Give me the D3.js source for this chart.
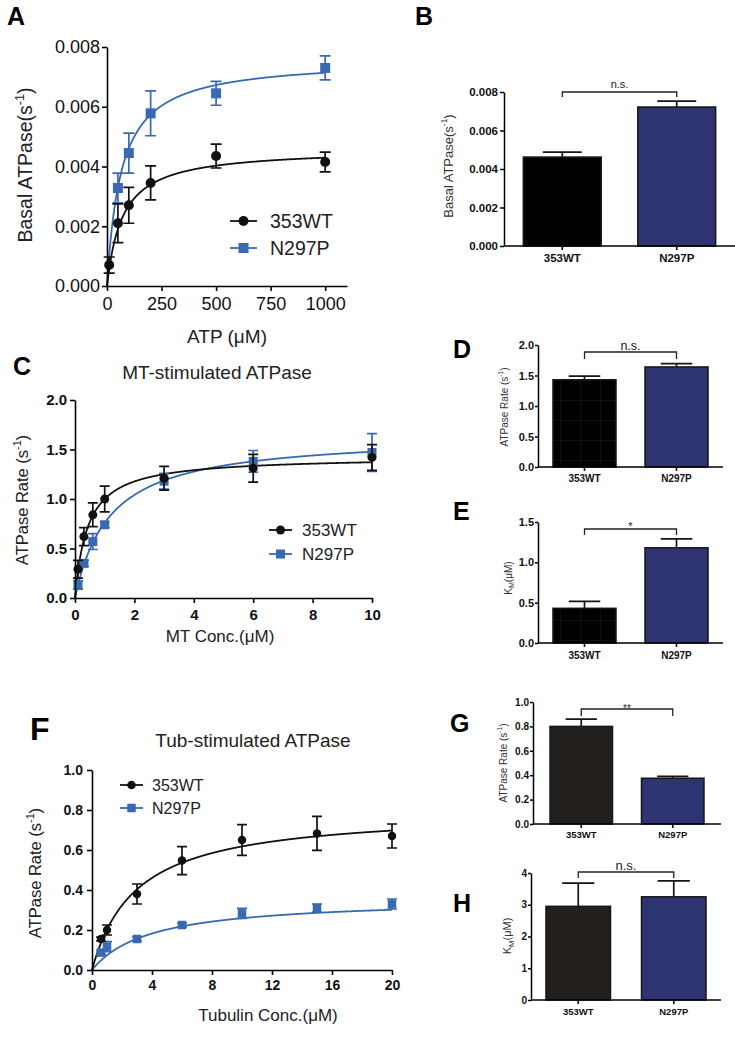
<!DOCTYPE html>
<html><head><meta charset="utf-8">
<script src="https://cdnjs.cloudflare.com/ajax/libs/d3/7.8.5/d3.min.js"></script>
<style>body{margin:0;background:#fff}</style>
</head><body>
<script>
// ---------------- DATA ----------------
const groups = ["353WT", "N297P"];

// Panel A: basal ATPase vs ATP
const aTicksX = [0, 250, 500, 750, 1000];
const aTicksY = [0, 0.002, 0.004, 0.006, 0.008];
const aX_WT = [10, 50, 100, 200, 500, 1000];
const aWT = [0.0007, 0.0021, 0.0027, 0.00345, 0.00435, 0.00415];
const aWTerr = [0.00027, 0.00065, 0.0006, 0.00057, 0.0004, 0.00033];
const aX_N = [50, 100, 200, 500, 1000];
const aN = [0.00328, 0.00445, 0.00578, 0.00645, 0.0073];
const aNerr = [0.0005, 0.00067, 0.00075, 0.0004, 0.0004];
const aFitVmax = [0.0046, 0.0076];
const aFitKm = [71, 65];

// Panel B
const bVals = [0.00462, 0.00722];
const bErr = [0.00026, 0.00031];
const bTicks = [0, 0.002, 0.004, 0.006, 0.008];

// Panel C: MT-stimulated
const cTicksX = [0, 2, 4, 6, 8, 10];
const cTicksY = [0, 0.5, 1.0, 1.5, 2.0];
const cX = [0.1, 0.3, 0.6, 1, 3, 6, 10];
const cWT = [0.29, 0.62, 0.84, 1.0, 1.21, 1.31, 1.42];
const cWTerr = [0.09, 0.09, 0.12, 0.13, 0.12, 0.14, 0.13];
const cN = [0.13, 0.35, 0.57, 0.74, 1.18, 1.38, 1.47];
const cNerr = [0.04, 0.03, 0.08, 0.03, 0.08, 0.11, 0.19];

// Panel D (Vmax) and E (Km) for MT
const dVals = [1.43, 1.64];
const dErr = [0.06, 0.055];
const dTicks = [0, 0.5, 1.0, 1.5, 2.0];
const eVals = [0.43, 1.18];
const eErr = [0.085, 0.11];
const eTicks = [0, 0.5, 1.0, 1.5];

// Panel F: Tub-stimulated
const fTicksX = [0, 4, 8, 12, 16, 20];
const fTicksY = [0, 0.2, 0.4, 0.6, 0.8, 1.0];
const fX = [0.6, 1, 3, 6, 10, 15, 20];
const fWT = [0.155, 0.20, 0.38, 0.547, 0.65, 0.683, 0.67];
const fWTerr = [0.01, 0.025, 0.05, 0.07, 0.077, 0.085, 0.06];
const fN = [0.087, 0.117, 0.155, 0.225, 0.283, 0.31, 0.33];
const fNerr = [0.01, 0.025, 0.01, 0.01, 0.025, 0.02, 0.025];
const fFitVmax = [0.80, 0.36];
const fFitKm = [2.95, 3.9];

// Panel G (Vmax) and H (Km) for tubulin
const gVals = [0.80, 0.375];
const gErr = [0.06, 0.015];
const gTicks = [0, 0.2, 0.4, 0.6, 0.8, 1.0];
const hVals = [2.95, 3.25];
const hErr = [0.73, 0.5];
const hTicks = [0, 1, 2, 3, 4];

// ---------------- DRAW ----------------
const BLUE = "#3a69b3", BLACK = "#111", NAVY = "#2e3472", BROWN = "#231f1c";
const FONT = "'Liberation Sans', Arial, Helvetica, sans-serif";
const svg = d3.select("body").append("svg").attr("width", 735).attr("height", 1039)
  .style("font-family", FONT);

const defs = svg.append("defs");
const pat = defs.append("pattern").attr("id", "grid").attr("patternUnits", "userSpaceOnUse")
  .attr("width", 20).attr("height", 20);
pat.append("rect").attr("width", 20).attr("height", 20).attr("fill", "#000");
pat.append("path").attr("d", "M0,0V20M0,0H20").attr("stroke", "#262626").attr("stroke-width", 0.7);

function richText(g, parts, fs) {
  const t = g;
  let shift = 0;
  parts.forEach(p => {
    const ts = t.append("tspan").text(p.t);
    if (p.sup) { ts.attr("font-size", fs * 0.65).attr("dy", -0.42 * fs); shift = 0.42 * fs; }
    else if (p.sub) { ts.attr("font-size", fs * 0.7).attr("dy", 0.25 * fs); shift = -0.25 * fs; }
    else if (shift !== 0) { ts.attr("dy", shift); shift = 0; }
  });
}

function rotTitle(cx, cy, parts, fs, fill) {
  const t = svg.append("text").attr("transform", `translate(${cx},${cy}) rotate(-90)`)
    .attr("text-anchor", "middle").attr("dy", "0.35em").attr("font-size", fs).attr("fill", fill);
  richText(t, parts, fs);
}

function label(x, y, s, fs, opts = {}) {
  return svg.append("text").attr("x", x).attr("y", y).text(s).attr("font-size", fs)
    .attr("font-weight", opts.bold ? "bold" : "normal").attr("fill", opts.fill || "#111")
    .attr("text-anchor", opts.anchor || "start");
}

function styleAxis(a, fs, fw, sw) {
  a.attr("font-family", null).attr("font-size", fs).attr("font-weight", fw);
  a.select(".domain").attr("stroke", "#000").attr("stroke-width", sw);
  a.selectAll(".tick line").attr("stroke", "#000").attr("stroke-width", sw);
  a.selectAll(".tick text").attr("fill", "#111");
}

function marker(g, shape, cx, cy, size, color) {
  if (shape === "circle") g.append("circle").attr("cx", cx).attr("cy", cy).attr("r", size / 2).attr("fill", color);
  else g.append("rect").attr("x", cx - size / 2).attr("y", cy - size / 2).attr("width", size).attr("height", size).attr("fill", color);
}

function scatter(o) {
  const x = d3.scaleLinear().domain(o.xd).range(o.xr);
  const y = d3.scaleLinear().domain(o.yd).range(o.yr);
  const g = svg.append("g");
  // fitted Michaelis-Menten curves
  o.series.forEach(s => {
    const xs = d3.range(0, 801).map(i => i / 800 * s.xmax);
    const line = d3.line().x(d => x(d)).y(d => y(s.vmax * d / (s.km + d)));
    g.append("path").attr("d", line(xs)).attr("fill", "none").attr("stroke", s.color).attr("stroke-width", 1.8);
  });
  // error bars + markers
  o.series.forEach(s => {
    s.x.forEach((xv, i) => {
      const cx = x(xv), y0 = y(s.y[i] - s.err[i]), y1 = y(s.y[i] + s.err[i]);
      g.append("path").attr("d", `M${cx},${y0}V${y1}M${cx - o.cap},${y0}H${cx + o.cap}M${cx - o.cap},${y1}H${cx + o.cap}`)
        .attr("stroke", s.color).attr("stroke-width", 1.7).attr("fill", "none");
      marker(g, s.shape, cx, y(s.y[i]), o.msize, s.color);
    });
  });
  const ax = g.append("g").attr("transform", `translate(0,${o.yr[0]})`)
    .call(d3.axisBottom(x).tickValues(o.xt).tickFormat(o.xf).tickSizeInner(5).tickSizeOuter(0).tickPadding(o.xpad));
  const ay = g.append("g").attr("transform", `translate(${o.xr[0]},0)`)
    .call(d3.axisLeft(y).tickValues(o.yt).tickFormat(o.yf).tickSizeInner(5).tickSizeOuter(0).tickPadding(o.ypad));
  styleAxis(ax, o.fs, o.fw, 1.6);
  styleAxis(ay, o.fs, o.fw, 1.6);
  // legend
  o.series.forEach((s, i) => {
    const ly = o.leg.y[i];
    g.append("line").attr("x1", o.leg.x0).attr("x2", o.leg.x1).attr("y1", ly).attr("y2", ly)
      .attr("stroke", s.color).attr("stroke-width", 1.8);
    marker(g, s.shape, (o.leg.x0 + o.leg.x1) / 2, ly, o.msize, s.color);
    g.append("text").attr("x", o.leg.tx).attr("y", ly + o.leg.fs * 0.36).attr("font-size", o.leg.fs)
      .attr("fill", "#222").text(s.name);
  });
}

function bars(o) {
  const x = d3.scaleBand().domain(groups).range([o.ax0, o.ax1]).paddingInner(o.pi).paddingOuter(o.po);
  const y = d3.scaleLinear().domain(o.yd).range(o.yr);
  const g = svg.append("g");
  const bw = x.bandwidth();
  groups.forEach((c, i) => {
    g.append("rect").attr("x", x(c)).attr("y", y(o.vals[i])).attr("width", bw)
      .attr("height", y(0) - y(o.vals[i])).attr("fill", o.fills[i]).attr("stroke", "#151515").attr("stroke-width", 1.5);
    const cx = x(c) + bw / 2, top = y(o.vals[i] + o.errs[i]);
    g.append("path").attr("d", `M${cx},${y(o.vals[i])}V${top}M${cx - bw / 4},${top}H${cx + bw / 4}`)
      .attr("stroke", "#151515").attr("stroke-width", 1.7).attr("fill", "none");
  });
  const ax = g.append("g").attr("transform", `translate(0,${o.yr[0]})`)
    .call(d3.axisBottom(x).tickSizeInner(4).tickSizeOuter(0).tickPadding(o.catpad));
  ax.select(".domain").attr("d", `M${o.ax0},0H${o.ax1}`);
  const ay = g.append("g").attr("transform", `translate(${o.ax0},0)`)
    .call(d3.axisLeft(y).tickValues(o.yt).tickFormat(o.yf).tickSizeInner(o.tick).tickSizeOuter(0).tickPadding(o.ypad));
  styleAxis(ax, o.catfs, "bold", 1.6);
  styleAxis(ay, o.fs, "bold", 1.5);
  // significance bracket
  const bx0 = x(groups[0]) + bw / 2, bx1 = x(groups[1]) + bw / 2;
  g.append("path").attr("d", `M${bx0},${o.br[1]}V${o.br[0]}H${bx1}V${o.br[1]}`)
    .attr("stroke", "#222").attr("stroke-width", 1.3).attr("fill", "none");
  g.append("text").attr("x", (bx0 + bx1) / 2).attr("y", o.br[2]).attr("text-anchor", "middle")
    .attr("font-size", o.br[3]).attr("fill", "#222").text(o.sig);
  rotTitle(o.tpos[0], o.tpos[1], o.title, o.tfs, "#333");
}

const f1 = d3.format(".1f"), f3 = d3.format(".3f"), fd = d3.format("d");

// ---- Panel A ----
scatter({
  xd: [0, 1100], xr: [107, 347], yd: [0, 0.008], yr: [286, 47],
  xt: aTicksX, yt: aTicksY, xf: fd, yf: f3, fs: 18, fw: "normal", xpad: 6, ypad: 2,
  cap: 5.5, msize: 10,
  series: [
    { name: "N297P", x: aX_N, y: aN, err: aNerr, color: BLUE, shape: "square", vmax: aFitVmax[1], km: aFitKm[1], xmax: 1000 },
    { name: "353WT", x: aX_WT, y: aWT, err: aWTerr, color: BLACK, shape: "circle", vmax: aFitVmax[0], km: aFitKm[0], xmax: 1000 }
  ],
  leg: { x0: 230, x1: 257, tx: 270, y: [248, 221], fs: 19.5 }
});
rotTitle(25, 165, [{ t: "Basal ATPase(s" }, { t: "-1", sup: true }, { t: ")" }], 19.5, "#222");
label(227, 343, "ATP (μM)", 19, { anchor: "middle", fill: "#222" });

// ---- Panel C ----
label(217, 379, "MT-stimulated ATPase", 19, { anchor: "middle", fill: "#222" });
scatter({
  xd: [0, 10], xr: [75, 372], yd: [0, 2], yr: [598, 400],
  xt: cTicksX, yt: cTicksY, xf: fd, yf: f1, fs: 15, fw: "bold", xpad: 6, ypad: 3,
  cap: 5, msize: 9,
  series: [
    { name: "N297P", x: cX, y: cN, err: cNerr, color: BLUE, shape: "square", vmax: dVals[1] + 0.01, km: eVals[1] - 0.01, xmax: 10 },
    { name: "353WT", x: cX, y: cWT, err: cWTerr, color: BLACK, shape: "circle", vmax: dVals[0], km: eVals[0], xmax: 10 }
  ],
  leg: { x0: 269, x1: 292, tx: 302, y: [554, 530], fs: 17 }
});
rotTitle(22, 500, [{ t: "ATPase Rate (s" }, { t: "-1", sup: true }, { t: ")" }], 16.5, "#222");
label(220, 642, "MT Conc.(μM)", 17, { anchor: "middle", fill: "#222" });

// ---- Panel F ----
label(253, 747, "Tub-stimulated ATPase", 19, { anchor: "middle", fill: "#222" });
scatter({
  xd: [0, 20], xr: [92, 392], yd: [0, 1], yr: [970, 770],
  xt: fTicksX, yt: fTicksY, xf: fd, yf: f1, fs: 14, fw: "bold", xpad: 5, ypad: 4,
  cap: 5, msize: 8.5,
  series: [
    { name: "N297P", x: fX, y: fN, err: fNerr, color: BLUE, shape: "square", vmax: fFitVmax[1], km: fFitKm[1], xmax: 20 },
    { name: "353WT", x: fX, y: fWT, err: fWTerr, color: BLACK, shape: "circle", vmax: fFitVmax[0], km: fFitKm[0], xmax: 20 }
  ],
  leg: { x0: 120, x1: 143, tx: 152, y: [808, 785], fs: 16 }
});
rotTitle(35, 873, [{ t: "ATPase Rate (s" }, { t: "-1", sup: true }, { t: ")" }], 16.5, "#222");
label(268, 1021, "Tubulin Conc.(μM)", 17, { anchor: "middle", fill: "#222" });

// ---- Bar panels ----
bars({ vals: bVals, errs: bErr, fills: ["#000", NAVY], ax0: 504, ax1: 735, pi: 0.32, po: 0.169,
  yd: [0, 0.008], yr: [246, 92], yt: bTicks, yf: f3, fs: 11.5, tick: 4, ypad: 2, catfs: 11.5, catpad: 4,
  br: [92, 97, 88, 11], sig: "n.s.", tpos: [448, 166],
  title: [{ t: "Basal ATPase(s" }, { t: "-1", sup: true }, { t: ")" }], tfs: 13 });

bars({ vals: dVals, errs: dErr, fills: ["url(#grid)", NAVY], ax0: 538, ax1: 723, pi: 0.315, po: 0.163,
  yd: [0, 2], yr: [467, 345], yt: dTicks, yf: f1, fs: 11, tick: 3, ypad: 1, catfs: 10, catpad: 3.5,
  br: [352, 359, 350, 12.5], sig: "n.s.", tpos: [504, 407],
  title: [{ t: "ATPase Rate (s" }, { t: "-1", sup: true }, { t: ")" }], tfs: 10 });

bars({ vals: eVals, errs: eErr, fills: ["url(#grid)", NAVY], ax0: 538, ax1: 723, pi: 0.315, po: 0.163,
  yd: [0, 1.5], yr: [643, 522], yt: eTicks, yf: f1, fs: 11, tick: 3, ypad: 1, catfs: 10, catpad: 4.5,
  br: [529, 535, 530, 11], sig: "*", tpos: [508, 578],
  title: [{ t: "K" }, { t: "M", sub: true }, { t: "(μM)" }], tfs: 10 });

bars({ vals: gVals, errs: gErr, fills: [BROWN, NAVY], ax0: 533, ax1: 721, pi: 0.317, po: 0.186,
  yd: [0, 1], yr: [824, 702], yt: gTicks, yf: f1, fs: 10, tick: 3, ypad: 1, catfs: 9.5, catpad: 3.5,
  br: [709, 716, 712, 10], sig: "**", tpos: [503, 763],
  title: [{ t: "ATPase Rate (s" }, { t: "-1", sup: true }, { t: ")" }], tfs: 10 });

bars({ vals: hVals, errs: hErr, fills: [BROWN, NAVY], ax0: 531, ax1: 721, pi: 0.325, po: 0.157,
  yd: [0, 4], yr: [1000, 873], yt: hTicks, yf: fd, fs: 10, tick: 3, ypad: 1, catfs: 9.5, catpad: 4.5,
  br: [872, 878, 870, 13], sig: "n.s.", tpos: [507, 936],
  title: [{ t: "K" }, { t: "M", sub: true }, { t: "(μM)" }], tfs: 11 });

// ---- Panel letters ----
[["A", 7, 25, 25], ["B", 415, 25, 25], ["C", 13, 375, 25], ["D", 453, 358, 25],
 ["E", 453, 520, 25], ["F", 30, 740, 32], ["G", 450, 732, 25], ["H", 453, 912, 25]]
  .forEach(([t, x, y, fs]) => label(x, y, t, fs, { bold: true, fill: "#000" }));
</script>
</body></html>
